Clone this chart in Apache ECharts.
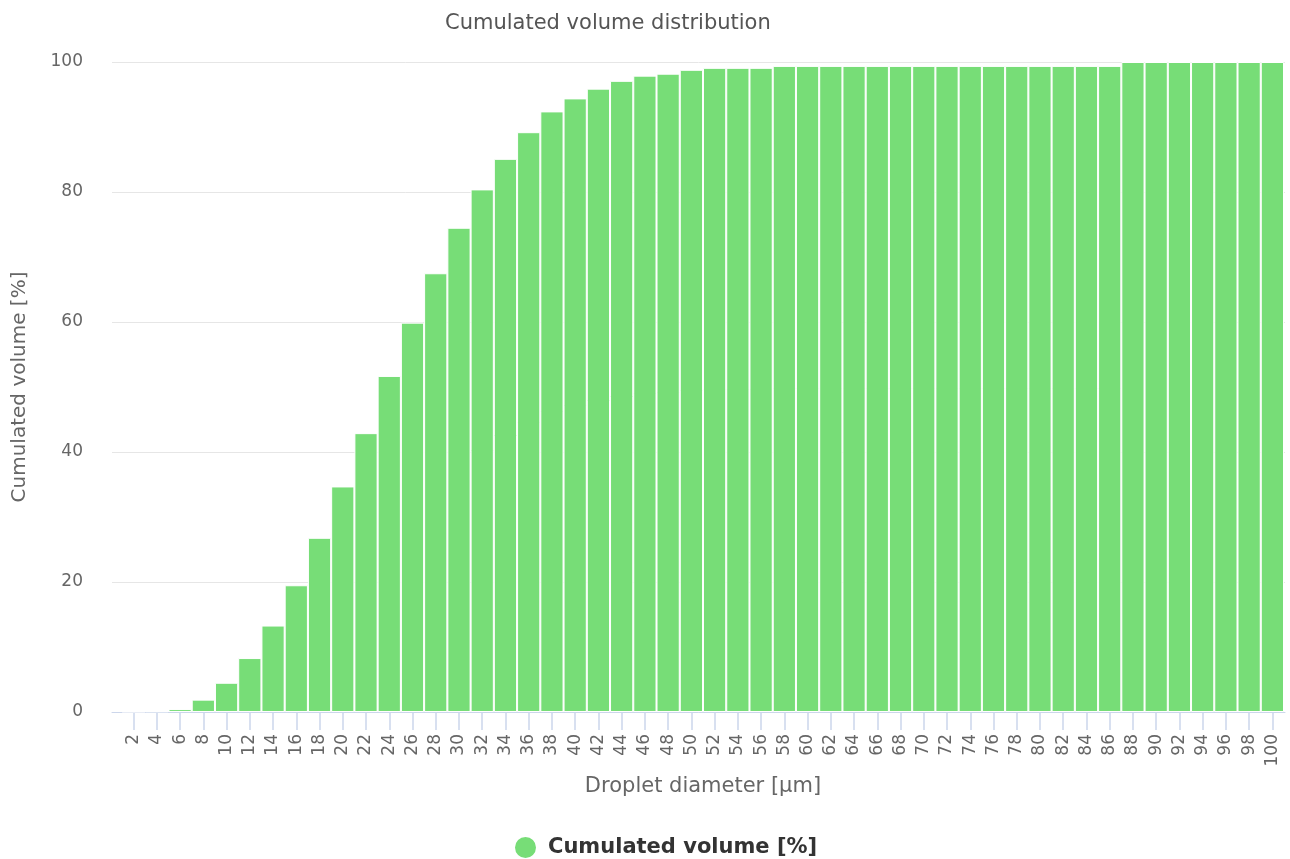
<!DOCTYPE html>
<html>
<head>
<meta charset="utf-8">
<script src="https://cdn.jsdelivr.net/npm/echarts@6/dist/echarts.min.js"></script>
<style>html,body{margin:0;padding:0;background:#fff;}#c{width:1290px;height:859px;}</style>
</head>
<body>
<div id="c"></div>
<script>
const categories = ['2','4','6','8','10','12','14','16','18','20','22','24','26','28','30','32','34','36','38','40','42','44','46','48','50','52','54','56','58','60','62','64','66','68','70','72','74','76','78','80','82','84','86','88','90','92','94','96','98','100'];
const cumulatedVolume = [0.05,0.1,0.45,1.9,4.5,8.3,13.3,19.5,26.8,34.7,42.9,51.7,59.9,67.5,74.5,80.4,85.1,89.2,92.4,94.4,95.9,97.1,97.9,98.2,98.8,99.1,99.1,99.1,99.4,99.4,99.4,99.4,99.4,99.4,99.4,99.4,99.4,99.4,99.4,99.4,99.4,99.4,99.4,100,100,100,100,100,100,100];
const yTicks = [0,20,40,60,80,100];

const font = 'DejaVu Sans, Verdana, sans-serif';
const chart = echarts.init(document.getElementById('c'), null, {renderer:'canvas'});
chart.setOption({
  animation: false,
  backgroundColor: '#fff',
  title: {
    text: 'Cumulated volume distribution',
    left: 440, top: 8,
    textStyle: {fontFamily: font, fontSize: 21, fontWeight: 'normal', color: '#555'}
  },
  legend: {
    top: 830, left: 508,
    icon: 'circle', itemWidth: 23, itemHeight: 23, itemGap: 10,
    textStyle: {fontFamily: font, fontSize: 21, fontWeight: 'bold', color: '#333', padding: [0, 0, 0, 6]},
    data: ['Cumulated volume [%]']
  },
  grid: [
    {left: 112, right: 5, top: 62, bottom: 147},
    {left: 122, right: 6, top: 62, bottom: 147}
  ],
  xAxis: [
    {gridIndex: 0, type: 'value', min: 0, max: 1,
     axisLine: {show: true, lineStyle: {color: '#ccd6eb', width: 1}},
     axisTick: {show: false}, axisLabel: {show: false}, splitLine: {show: false}},
    {gridIndex: 1, type: 'category', data: categories,
     name: 'Droplet diameter [µm]', nameLocation: 'middle', nameGap: 64,
     nameTextStyle: {fontFamily: font, fontSize: 21, color: '#666'},
     axisLine: {show: false},
     axisTick: {show: true, alignWithLabel: true, length: 18, lineStyle: {color: '#ccd6eb', width: 1.5}},
     axisLabel: {interval: 0, rotate: 90, margin: 22, fontFamily: font, fontSize: 17, color: '#666'}}
  ],
  yAxis: [
    {gridIndex: 0, type: 'value', min: yTicks[0], max: yTicks[yTicks.length-1], interval: 20,
     name: 'Cumulated volume [%]', nameLocation: 'middle', nameGap: 82,
     nameTextStyle: {fontFamily: font, fontSize: 20, color: '#666'},
     axisLine: {show: false}, axisTick: {show: false},
     axisLabel: {margin: 29, fontFamily: font, fontSize: 17, color: '#666'},
     splitLine: {lineStyle: {color: '#e6e6e6', width: 1}}},
    {gridIndex: 1, type: 'value', min: 0, max: 100, show: false, splitLine: {show: false}}
  ],
  series: [{
    name: 'Cumulated volume [%]',
    type: 'bar',
    xAxisIndex: 1, yAxisIndex: 1,
    data: cumulatedVolume,
    barCategoryGap: '0%',
    itemStyle: {color: '#77dd77', borderColor: '#ffffff', borderWidth: 1}
  }]
});
</script>
</body>
</html>
